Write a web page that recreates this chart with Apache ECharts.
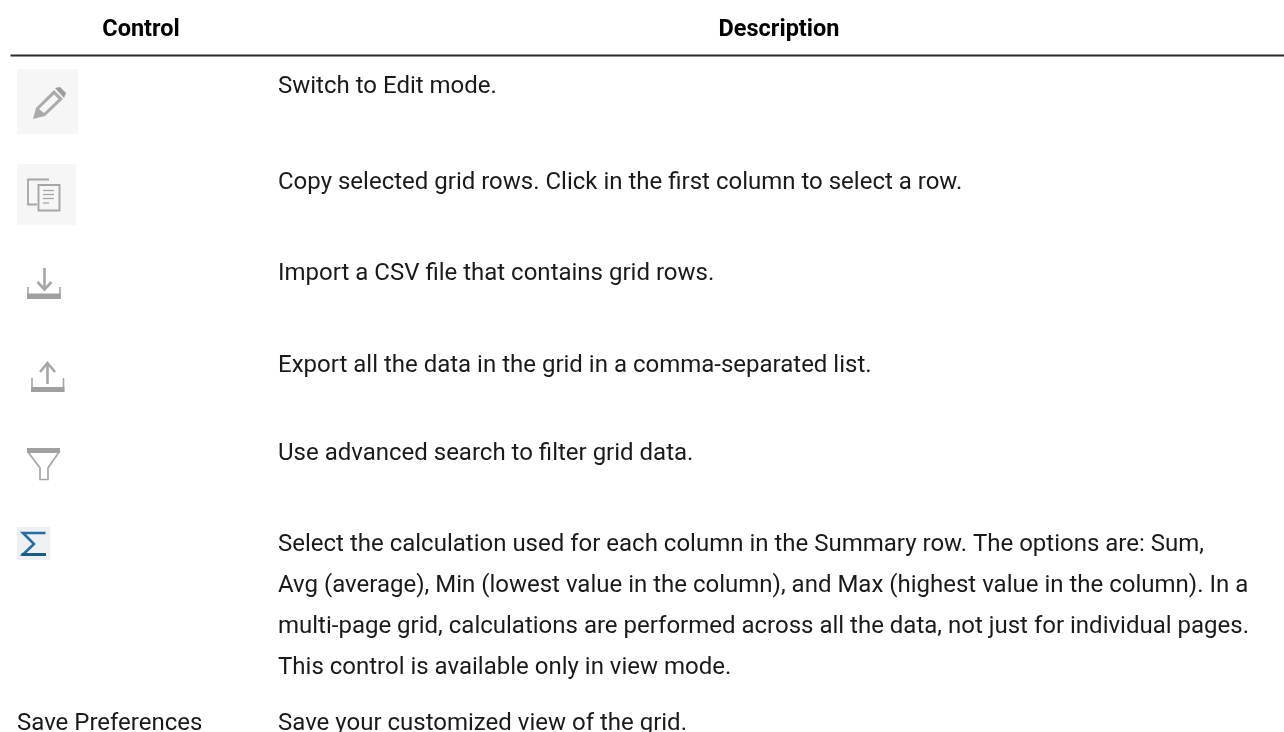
<!DOCTYPE html>
<html>
<head>
<meta charset="utf-8">
<style>html,body{margin:0;padding:0;background:#fff}#c{width:1284px;height:732px}</style>
<script src="https://cdn.jsdelivr.net/npm/echarts@6/dist/echarts.min.js"></script>
</head>
<body>
<div id="c"></div>
<script>
const headers = ['Control', 'Description'];
const controlLabels = ['Save Preferences'];
const descriptions = [
  ['Switch to Edit mode.'],
  ['Copy selected grid rows. Click in the first column to select a row.'],
  ['Import a CSV file that contains grid rows.'],
  ['Export all the data in the grid in a comma-separated list.'],
  ['Use advanced search to filter grid data.'],
  ['Select the calculation used for each column in the Summary row. The options are: Sum,',
   'Avg (average), Min (lowest value in the column), and Max (highest value in the column). In a',
   'multi-page grid, calculations are performed across all the data, not just for individual pages.',
   'This control is available only in view mode.'],
  ['Save your customized view of the grid.']
];

const FONT = 'Roboto, "Noto Sans", sans-serif';
const LH = 41, TX = 278, IX = 17;
const rowBase = [93, 189, 280, 372, 460, 551, 730];
const G = '#a6a6a6', BG = '#f6f6f6', BAR = '#a0a0a0';
const els = [];
const txt = (x, y, s, o = {}) => els.push({type:'text', silent:true, style:{x, y:y-6.2, text:s, font:`${o.w||400} ${o.s||24}px ${FONT}`, fill:o.c||'#1a1a1a', align:o.a||'left', verticalAlign:'middle'}});
const rect = (x, y, w, h, fill) => els.push({type:'rect', silent:true, shape:{x, y, width:w, height:h}, style:{fill}});
const poly = (pts, stroke, lw) => els.push({type:'polyline', silent:true, shape:{points:pts}, style:{stroke, lineWidth:lw, fill:null}});
const gon = (pts, fill) => els.push({type:'polygon', silent:true, shape:{points:pts}, style:{fill}});

// header
txt(141, 36, headers[0], {w:700, s:23.5, a:'center', c:'#000'});
txt(779, 36, headers[1], {w:700, s:23.5, a:'center', c:'#000'});
rect(10.5, 54.5, 1273.5, 2, '#2a2a2a');

// rows
descriptions.forEach((lines, i) => lines.forEach((l, j) => txt(TX, rowBase[i] + j * LH, l)));
txt(IX, rowBase[6], controlLabels[0]);

// pencil
rect(IX, 69, 61, 65, BG);
gon([[33,119],[36,108],[54,90],[63,99],[45,116]], '#aaaaaa');
gon([[39,109],[54,94.5],[58.5,99],[44,113]], BG);
gon([[55,88],[60,87],[66,93],[64,98]], '#9c9c9c');
// copy
rect(IX, 164, 59, 61, BG);
poly([[49,179.5],[28,179.5],[28,204.5],[37,204.5]], G, 1.8);
els.push({type:'rect', silent:true, shape:{x:38.5,y:185,width:21,height:25.5}, style:{stroke:G, lineWidth:1.9, fill:BG}});
[190.5,194.5,198.5,203].forEach((y,i)=>poly([[43,y],[i==3?49:54,y]], G, 1.3));
// import
poly([[44.5,268],[44.5,289]], G, 2.6);
poly([[37.5,282],[44.5,289.5],[51.5,282]], G, 2.6);
poly([[28,287],[28,298],[60,298],[60,287]], G, 1.6);
rect(27, 293.5, 33.5, 5.5, BAR);
// export
poly([[47.5,363],[47.5,384]], G, 2.6);
poly([[40,372],[47.5,363],[55,372]], G, 2.6);
poly([[32,378],[32,391],[63.5,391],[63.5,378]], G, 1.6);
rect(31, 387, 33.5, 5, BAR);
// filter
rect(27, 448, 33, 5, BAR);
poly([[28,452],[40,468],[40,479.5],[48,479.5],[48,468],[59,452]], G, 1.7);
// sigma
rect(IX, 527, 33, 33, '#eef1f4');
poly([[45.5,533],[23,533],[34,544],[23,554.5],[45.5,554.5]], '#2a6b99', 2.6);
rect(21.5, 553, 24.5, 3, '#1a5a85');

const chart = echarts.init(document.getElementById('c'), null, {renderer:'canvas'});
chart.setOption({animation:false, backgroundColor:'#ffffff', graphic:{elements:els}});
</script>
</body>
</html>
